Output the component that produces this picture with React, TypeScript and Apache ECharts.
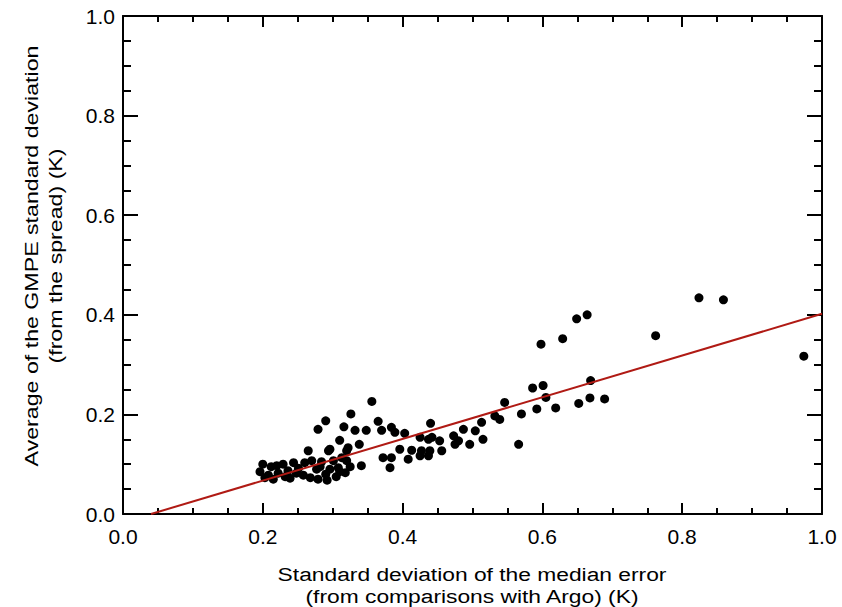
import React, { useEffect, useRef } from "react";
import * as echarts from "echarts";

const xValues: number[] = [
  0.196, 0.200, 0.203, 0.208, 0.212, 0.215, 0.220, 0.222, 0.229, 0.232,
  0.236, 0.239, 0.244, 0.248, 0.251, 0.258, 0.260, 0.265, 0.268, 0.270,
  0.277, 0.279, 0.282, 0.284, 0.290, 0.292, 0.294, 0.296, 0.301, 0.305,
  0.308, 0.310, 0.313, 0.318, 0.320, 0.320, 0.325,
  0.279, 0.290, 0.296, 0.310, 0.316, 0.322, 0.326, 0.332, 0.338, 0.341,
  0.348, 0.356, 0.365, 0.370, 0.372, 0.384, 0.384, 0.389, 0.382, 0.396,
  0.403, 0.408, 0.413, 0.425, 0.425, 0.427, 0.437, 0.437, 0.439, 0.440,
  0.442, 0.453, 0.456, 0.473, 0.475, 0.480, 0.487, 0.496, 0.504, 0.513,
  0.515, 0.532, 0.539, 0.546, 0.566, 0.570, 0.586, 0.592, 0.598, 0.601,
  0.605, 0.619, 0.629, 0.649, 0.652, 0.664, 0.668, 0.669, 0.689, 0.762,
  0.824, 0.859, 0.974,
];
const yValues: number[] = [
  0.085, 0.100, 0.073, 0.078, 0.095, 0.070, 0.097, 0.082, 0.100, 0.075,
  0.087, 0.072, 0.103, 0.082, 0.092, 0.078, 0.103, 0.127, 0.073, 0.107,
  0.090, 0.070, 0.095, 0.105, 0.080, 0.068, 0.127, 0.090, 0.107, 0.075,
  0.093, 0.085, 0.113, 0.083, 0.107, 0.127, 0.095,
  0.170, 0.187, 0.130, 0.148, 0.175, 0.133, 0.201, 0.168, 0.140, 0.097,
  0.168, 0.226, 0.186, 0.168, 0.113, 0.174, 0.113, 0.164, 0.093, 0.130,
  0.162, 0.110, 0.128, 0.154, 0.117, 0.127, 0.150, 0.117, 0.127, 0.182,
  0.154, 0.147, 0.127, 0.157, 0.140, 0.147, 0.170, 0.140, 0.167, 0.184,
  0.150, 0.197, 0.190, 0.224, 0.140, 0.201, 0.253, 0.211, 0.341, 0.258,
  0.234, 0.213, 0.352, 0.392, 0.222, 0.400, 0.233, 0.268, 0.231, 0.358,
  0.434, 0.430, 0.317,
];

const fitX: number[] = [0.04, 1.0];
const fitY: number[] = [0.0, 0.402];

const xTitle: string[] = [
  "Standard deviation of the median error",
  "(from comparisons with Argo) (K)",
];
const yTitle: string[] = [
  "Average of the GMPE standard deviation",
  "(from the spread) (K)",
];

const FONT = "Liberation Sans, Arial, Helvetica, sans-serif";

export default function App() {
  const ref = useRef<HTMLDivElement>(null);
  useEffect(() => {
    if (!ref.current) return;
    const chart = echarts.init(ref.current, null, { renderer: "svg" });
    const points = xValues.map((x, i) => [x, yValues[i]]);
    const fit = fitX.map((x, i) => [x, fitY[i]]);
    const mkAxis = (major: number, minor: number) => ({
      type: "value" as const,
      min: 0,
      max: 1,
      interval: 0.2,
      splitLine: { show: false },
      axisLine: { show: true, onZero: false, lineStyle: { color: "#000", width: 2 } },
      axisTick: { show: true, inside: true, length: major, lineStyle: { color: "#000", width: 2 } },
      minorTick: { show: true, splitNumber: 4, length: minor, lineStyle: { color: "#000", width: 2 } },
    });
    const labelStyle = {
      show: true,
      color: "#000",
      fontSize: 21,
      fontFamily: FONT,
      formatter: (v: number) => v.toFixed(1),
    };
    const titleStyle = (text: string) => ({
      text,
      fontSize: 19,
      fontFamily: FONT,
      fill: "#000",
      align: "center",
      verticalAlign: "middle",
    });
    chart.setOption({
      animation: false,
      backgroundColor: "#fff",
      grid: { left: 123, top: 16, right: 20, bottom: 93, containLabel: false },
      xAxis: [
        { ...mkAxis(11, 6), position: "bottom", axisLabel: { ...labelStyle, margin: 12 } },
        { ...mkAxis(11, 6), position: "top", axisLabel: { show: false } },
      ],
      yAxis: [
        { ...mkAxis(15, 8), position: "left", axisLabel: { ...labelStyle, margin: 8 } },
        { ...mkAxis(15, 8), position: "right", axisLabel: { show: false } },
      ],
      series: [
        {
          type: "scatter",
          xAxisIndex: 0,
          yAxisIndex: 0,
          data: points,
          symbol: "circle",
          symbolSize: 9,
          itemStyle: { color: "#000", opacity: 1 },
          z: 3,
        },
        {
          type: "line",
          xAxisIndex: 0,
          yAxisIndex: 0,
          data: fit,
          symbol: "none",
          lineStyle: { color: "#b01a14", width: 2 },
          clip: true,
          z: 4,
        },
      ],
      graphic: [
        { type: "text", x: 472, y: 574, scaleX: 1.2, style: titleStyle(xTitle[0]) },
        { type: "text", x: 472, y: 596, scaleX: 1.2, style: titleStyle(xTitle[1]) },
        { type: "text", x: 31, y: 256, rotation: Math.PI / 2, scaleX: 1.22, style: titleStyle(yTitle[0]) },
        { type: "text", x: 55, y: 256, rotation: Math.PI / 2, scaleX: 1.22, style: titleStyle(yTitle[1]) },
      ],
    });
    return () => chart.dispose();
  }, []);
  return (
    <div
      ref={ref}
      style={{ width: 842, height: 607, position: "absolute", left: 0, top: 0 }}
    />
  );
}
